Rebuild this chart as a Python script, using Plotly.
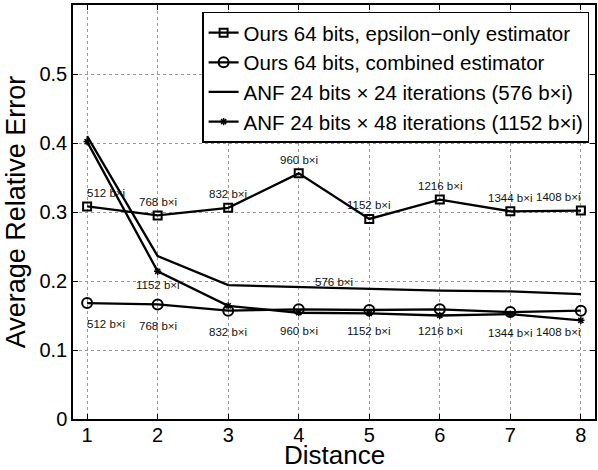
import plotly.graph_objects as go

distance = [1, 2, 3, 4, 5, 6, 7, 8]
eps_only = [0.308, 0.295, 0.306, 0.356, 0.290, 0.318, 0.301, 0.302]
combined = [0.168, 0.166, 0.157, 0.159, 0.158, 0.159, 0.155, 0.157]
anf24 = [0.410, 0.236, 0.194, 0.191, 0.188, 0.186, 0.185, 0.181]
anf48 = [0.402, 0.214, 0.164, 0.154, 0.153, 0.150, 0.152, 0.143]
ours_labels = ["512 b×i", "768 b×i", "832 b×i", "960 b×i",
               "1152 b×i", "1216 b×i", "1344 b×i", "1408 b×i"]
anf24_label = "576 b×i"
anf48_label = "1152 b×i"
names = ["Ours 64 bits, epsilon−only estimator",
         "Ours 64 bits, combined estimator",
         "ANF 24 bits × 24 iterations (576 b×i)",
         "ANF 24 bits × 48 iterations (1152 b×i)"]
y_ticks = [0, 0.1, 0.2, 0.3, 0.4, 0.5]
y_tick_text = ["0", "0.1", "0.2", "0.3", "0.4", "0.5"]
x_title = "Distance"
y_title = "Average Relative Error"

FONT = "Liberation Sans, Arial, sans-serif"
BLACK = "#000000"

fig = go.Figure()
fig.add_trace(go.Scatter(x=distance, y=eps_only, name=names[0], mode="lines+markers",
                         line=dict(color=BLACK, width=2.3),
                         marker=dict(symbol="square-open", size=8, color=BLACK,
                                     line=dict(width=2, color=BLACK))))
fig.add_trace(go.Scatter(x=distance, y=combined, name=names[1], mode="lines+markers",
                         line=dict(color=BLACK, width=2.3),
                         marker=dict(symbol="circle-open", size=10, color=BLACK,
                                     line=dict(width=2, color=BLACK))))
fig.add_trace(go.Scatter(x=distance, y=anf24, name=names[2], mode="lines",
                         line=dict(color=BLACK, width=2.3)))
fig.add_trace(go.Scatter(x=distance, y=anf48, name=names[3], mode="lines+markers",
                         line=dict(color=BLACK, width=2.3),
                         marker=dict(symbol="asterisk-open", size=6, color=BLACK,
                                     line=dict(width=1.5, color=BLACK))))

ann_font = dict(family=FONT, size=11.5, color="#111111")
annotations = []
n = len(distance)
for i in range(n):
    xo = 0.27 if i == 0 else (-0.32 if i == n - 1 else 0.0)
    annotations.append(dict(x=distance[i] + xo, y=eps_only[i] + 0.02, text=ours_labels[i],
                            showarrow=False, xanchor="center", yanchor="middle", font=ann_font))
    annotations.append(dict(x=distance[i] + xo, y=combined[i] - 0.031, text=ours_labels[i],
                            showarrow=False, xanchor="center", yanchor="middle", font=ann_font))
annotations.append(dict(x=distance[3] + 0.5, y=anf24[3] + 0.007, text=anf24_label,
                        showarrow=False, xanchor="center", yanchor="middle", font=ann_font))
annotations.append(dict(x=distance[1], y=anf48[1] - 0.02, text=anf48_label,
                        showarrow=False, xanchor="center", yanchor="middle", font=ann_font))
annotations.append(dict(x=0.5, xref="paper", y=0, yref="paper", yanchor="middle",
                        yshift=-36, text=x_title, showarrow=False, borderpad=0,
                        font=dict(family=FONT, size=26, color=BLACK)))

axis_common = dict(showline=True, linecolor=BLACK, linewidth=1.5, mirror="ticks",
                   ticks="inside", ticklen=5, tickwidth=1, tickcolor=BLACK,
                   showgrid=True, gridcolor="#9a9a9a", gridwidth=1, griddash="dot",
                   zeroline=False, tickfont=dict(family=FONT, size=20, color=BLACK))

fig.update_layout(
    width=598, height=470,
    margin=dict(l=73, r=1, t=5, b=51),
    paper_bgcolor="white", plot_bgcolor="white",
    font=dict(family=FONT, color=BLACK),
    xaxis=dict(range=[0.8, 8.2], tickvals=distance, ticktext=[str(d) for d in distance],
               ticklabelstandoff=-3, **axis_common),
    yaxis=dict(range=[0, 0.6], tickvals=y_ticks, ticktext=y_tick_text,
               title=dict(text=y_title,
                          font=dict(family=FONT, size=27, color=BLACK), standoff=6),
               **axis_common),
    legend=dict(x=0.9893, y=0.984, xanchor="right", yanchor="top",
                bgcolor="white", bordercolor=BLACK, borderwidth=1.2,
                font=dict(family=FONT, size=20.5, color=BLACK),
                tracegroupgap=0, itemwidth=30),
    annotations=annotations,
    showlegend=True,
)

fig.write_html("out.html")
